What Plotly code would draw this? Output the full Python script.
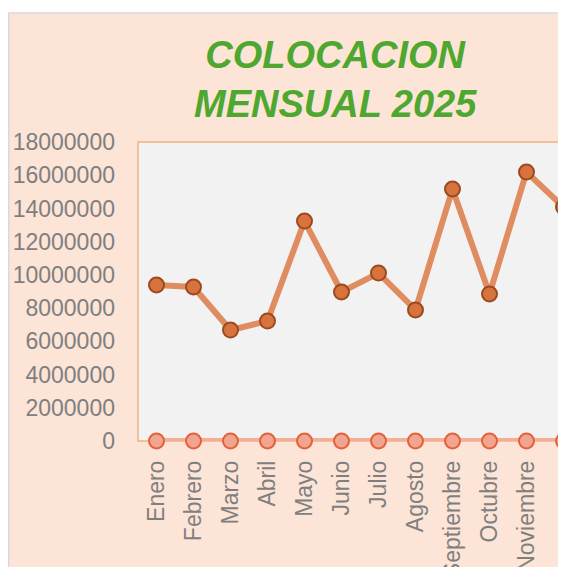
import plotly.graph_objects as go

meses = ["Enero", "Febrero", "Marzo", "Abril", "Mayo", "Junio", "Julio",
         "Agosto", "Septiembre", "Octubre", "Noviembre", "Diciembre"]
colocacion = [9390000, 9270000, 6680000, 7220000, 13240000, 8970000,
              10110000, 7890000, 15170000, 8850000, 16190000, 14090000]
ceros = [0] * 12
y_ticks = [0, 2000000, 4000000, 6000000, 8000000, 10000000,
           12000000, 14000000, 16000000, 18000000]

# la pagina tiene 8px de margen; el grafico original sigue mas alla del borde derecho
W, H = 566, 559
L, T, B = 130, 134, 126
pw, ph = 428, H - T - B
R = W - L - pw

fig = go.Figure()

# serie en cero (abajo)
fig.add_trace(go.Scatter(
    x=list(range(12)), y=ceros, mode="lines+markers",
    line=dict(color="#F3AE97", width=6),
    marker=dict(size=15, color="#F0A590", line=dict(color="#E5603A", width=2)),
    cliponaxis=False, showlegend=False, hoverinfo="skip"))

# serie principal
fig.add_trace(go.Scatter(
    x=list(range(12)), y=colocacion, mode="lines+markers",
    line=dict(color="#DF8C61", width=6),
    marker=dict(size=15, color="#D8733E", line=dict(color="#9A4A1E", width=2)),
    cliponaxis=False, showlegend=False))

# fondo del grafico y del area de trazado
fig.add_shape(type="rect", xref="paper", yref="paper",
              x0=(0.75 - L) / pw, x1=1.2, y0=-0.6, y1=(H - B - 5) / ph,
              layer="below", fillcolor="#FCE4D6",
              line=dict(color="#D9D9D9", width=1.5))
fig.add_shape(type="rect", xref="paper", yref="paper",
              x0=0, x1=1.2, y0=0, y1=1, layer="below",
              fillcolor="#F2F2F2", line=dict(color="#F4B183", width=1.5))

# titulo
fig.add_annotation(
    text="<b><i>COLOCACION<br>MENSUAL 2025</i></b>",
    xref="paper", yref="paper", x=(327 - L) / pw, y=(H - B - 24) / ph,
    xanchor="center", yanchor="top", showarrow=False,
    font=dict(family="Liberation Sans, Arial", size=38, color="#4EA72E"))

fig.update_layout(
    width=W, height=H,
    margin=dict(l=L, r=R, t=T, b=B, pad=0, autoexpand=False),
    paper_bgcolor="white", plot_bgcolor="rgba(0,0,0,0)",
    font=dict(family="Liberation Sans, Arial", color="#7F7F7F", size=23),
    xaxis=dict(range=[-0.5, -0.5 + pw / 37], tickvals=list(range(12)),
               ticktext=meses, tickangle=-90, showgrid=False, zeroline=False,
               showline=False, ticklabelstandoff=14, automargin=False,
               tickfont=dict(size=23, color="#7F7F7F")),
    yaxis=dict(range=[0, 18000000], tickvals=y_ticks,
               ticktext=[str(v) for v in y_ticks], automargin=False,
               showgrid=False, zeroline=False, showline=False,
               ticklabelstandoff=22, tickfont=dict(size=23, color="#7F7F7F")),
)

fig.write_html("out.html")
